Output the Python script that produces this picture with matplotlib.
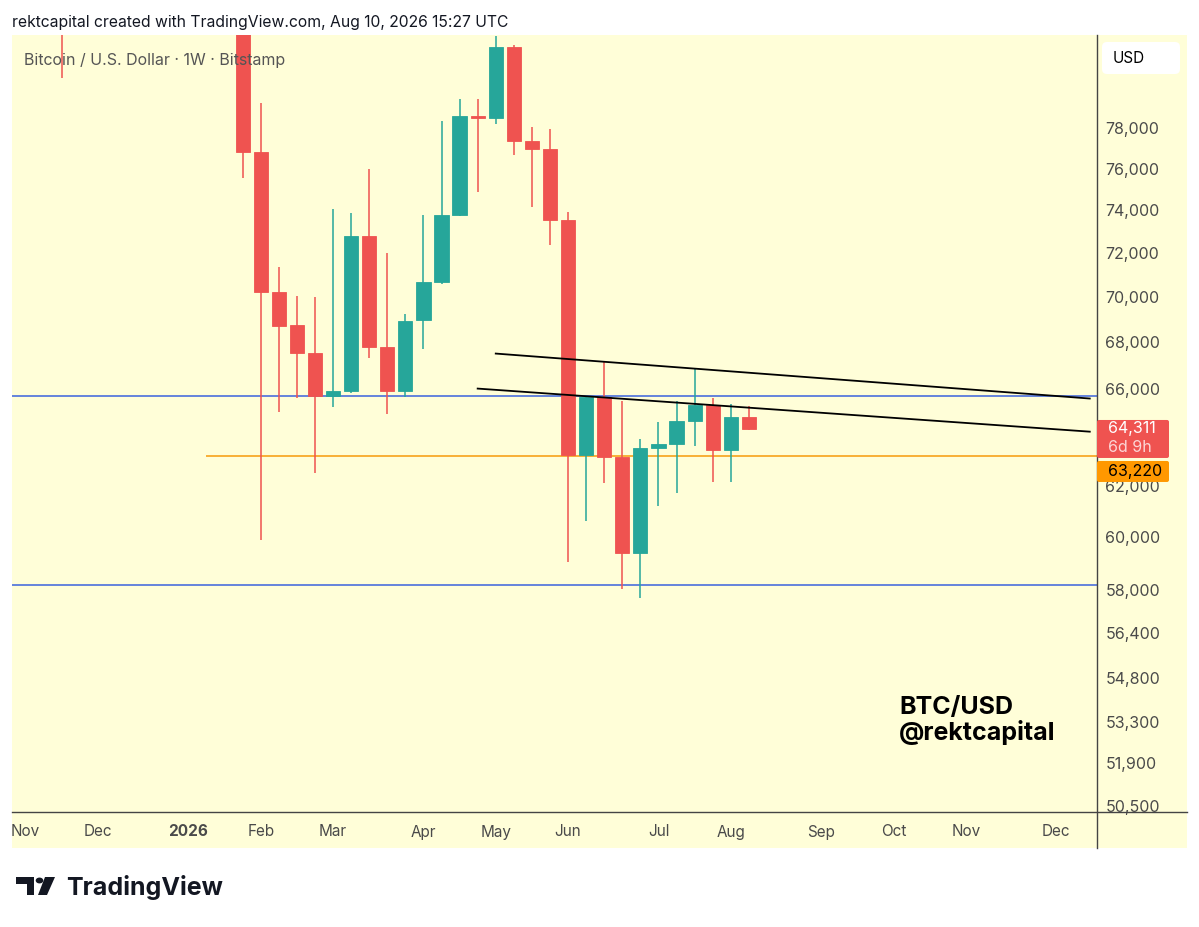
import matplotlib
matplotlib.use("Agg")
import matplotlib.pyplot as plt
import matplotlib.dates as mdates
from matplotlib.patches import Rectangle, Polygon, Circle, FancyBboxPatch
from matplotlib.lines import Line2D
from matplotlib.ticker import FixedLocator, NullLocator, FuncFormatter
import pandas as pd

plt.rcParams['font.family'] = ['Inter', 'DejaVu Sans']

# weekly candles (week start), only the ones that show in the window
weeks = ["2025-11-17", "2026-01-26", "2026-02-02", "2026-02-09", "2026-02-16", "2026-02-23",
         "2026-03-02", "2026-03-09", "2026-03-16", "2026-03-23", "2026-03-30", "2026-04-06",
         "2026-04-13", "2026-04-20", "2026-04-27", "2026-05-04", "2026-05-11", "2026-05-18",
         "2026-05-25", "2026-06-01", "2026-06-08", "2026-06-15", "2026-06-22", "2026-06-29",
         "2026-07-06", "2026-07-13", "2026-07-20", "2026-07-27", "2026-08-03", "2026-08-10"]
opens = [86900, 87600, 76840, 70230, 68730, 67540, 65700, 65900, 72800, 67800, 65900, 68970,
         70690, 73780, 78620, 78530, 82190, 77370, 76960, 73530, 63250, 65630, 63180, 59400,
         63520, 63680, 64630, 65300, 63440, 64800]
highs = [87900, 88400, 79260, 71340, 70040, 70000, 74050, 73870, 75970, 71990, 69220, 73780,
         78370, 79470, 79470, 82760, 82300, 78080, 77970, 73940, 65690, 67190, 65480, 63900,
         64590, 65480, 66880, 65600, 65340, 65270]
lows = [80540, 75570, 59890, 65030, 65590, 62510, 65240, 65800, 67320, 64930, 65660, 67680,
        70570, 73750, 74890, 78200, 76670, 74170, 72370, 59060, 60630, 62130, 58020, 57690,
        61220, 61710, 63610, 62170, 62170, 64250]
closes = [84300, 76840, 70230, 68720, 67540, 65700, 65900, 72790, 67800, 65900, 68930, 70690,
          73780, 78620, 78520, 82190, 77370, 76960, 73530, 63250, 65660, 63180, 59400, 63520,
          63680, 64630, 65300, 63440, 64800, 64311]

support_levels = [65700, 58180]
orange_level = 63220
orange_start = "2026-01-12"
# trendlines: (start week, start price, end week, end price)
trend_upper = ("2026-05-04", 67500, "2026-12-20", 65580)
trend_lower = ("2026-04-27", 66000, "2026-12-20", 64200)

price_ticks = [50500, 51900, 53300, 54800, 56400, 58000, 60000, 62000,
               66000, 68000, 70000, 72000, 74000, 76000, 78000]
month_days = ["2025-11-03", "2025-12-01", "2026-01-05", "2026-02-02", "2026-03-02", "2026-04-06",
              "2026-05-04", "2026-06-01", "2026-07-06", "2026-08-03", "2026-09-07", "2026-10-05",
              "2026-11-02", "2026-12-07"]
month_names = ["Nov", "Dec", "2026", "Feb", "Mar", "Apr", "May", "Jun", "Jul", "Aug", "Sep", "Oct",
               "Nov", "Dec"]
countdown = "6d 9h"

UP = "#26a69a"
DOWN = "#ef5350"
BG = "#fffed8"
TXT = "#4a4a4a"

W, H = 1199, 927


def fx(x):
    return x / W


def fy(y):
    return 1 - y / H


fig = plt.figure(figsize=(W / 100, H / 100), dpi=100)
fig.patch.set_facecolor("white")
fig.add_artist(Rectangle((fx(12), fy(848)), fx(1187 - 12), (848 - 35) / H,
                         transform=fig.transFigure, facecolor=BG, edgecolor="none", zorder=0))

ax = fig.add_axes([fx(12), fy(812), fx(1097 - 12), (812 - 35) / H])
ax.set_facecolor(BG)
for s in ax.spines.values():
    s.set_visible(False)

xs = mdates.date2num(pd.to_datetime(weeks))
last = mdates.date2num(pd.Timestamp("2026-08-10"))
for x, o, h, l, c in zip(xs, opens, highs, lows, closes):
    col = UP if c >= o else DOWN
    ax.vlines(x, l, h, color=col, linewidth=1.1, zorder=3)
    ax.bar(x, abs(c - o), bottom=min(o, c), width=5.5, color=col, edgecolor=col,
           linewidth=0.6, zorder=4)

for lvl in support_levels:
    ax.axhline(lvl, color="#4a6fdc", linewidth=1.2, zorder=2)
ax.hlines(orange_level, mdates.date2num(pd.Timestamp(orange_start)), last + 200,
          color="#f7a21b", linewidth=1.2, zorder=2)
for t in (trend_upper, trend_lower):
    ax.plot(mdates.date2num(pd.to_datetime([t[0], t[2]])), [t[1], t[3]],
            color="black", linewidth=1.3, zorder=5)

ax.set_yscale("log")
ax.set_ylim(50295, 82813)
ax.set_xlim(last - 285.3, last + 134.8)

ax.yaxis.tick_right()
ax.yaxis.set_major_locator(FixedLocator(price_ticks))
ax.yaxis.set_minor_locator(NullLocator())
ax.yaxis.set_major_formatter(FuncFormatter(lambda v, p: f"{v:,.0f}"))
ax.tick_params(axis="y", length=0, pad=6, labelsize=11.5, labelcolor=TXT)

ax.xaxis.set_major_locator(FixedLocator(mdates.date2num(pd.to_datetime(month_days))))
ax.xaxis.set_minor_locator(NullLocator())
ax.set_xticklabels(month_names)
ax.tick_params(axis="x", length=0, pad=9, labelsize=11, labelcolor=TXT)
for lab in ax.get_xticklabels():
    if lab.get_text() == "2026":
        lab.set_fontweight("bold")

# axis frame lines
fig.add_artist(Line2D([fx(1097), fx(1097)], [fy(35), fy(848)], transform=fig.transFigure,
                      color="#444444", linewidth=1.0))
fig.add_artist(Line2D([fx(12), fx(1187)], [fy(812), fy(812)], transform=fig.transFigure,
                      color="#444444", linewidth=1.0))

# texts
fig.text(fx(12), fy(23), "rektcapital created with TradingView.com, Aug 10, 2026 15:27 UTC",
         fontsize=11.3, color="#131722", va="center", ha="left")
fig.text(fx(24), fy(60), "Bitcoin / U.S. Dollar · 1W · Bitstamp",
         fontsize=11.5, color="#555555", va="center", ha="left", zorder=6)
fig.text(fx(899), fy(720.5), "BTC/USD\n@rektcapital", fontsize=18,
         fontweight="bold", color="black", va="center", ha="left", linespacing=1.05, zorder=6)

# USD box
fig.add_artist(FancyBboxPatch((1102, H - 74), 78, 32, boxstyle="round,pad=0,rounding_size=5",
                              transform=None, facecolor="white", edgecolor="none", zorder=6))
fig.text(fx(1113), fy(58.5), "USD", fontsize=11, color="black", va="center", ha="left", zorder=7)

# last price and level labels (positions from the price scale)
close_y = ax.transData.transform((last, closes[-1]))[1]
fig.add_artist(FancyBboxPatch((1097, close_y - 29), 72, 38,
                              boxstyle="round,pad=0,rounding_size=2", transform=None,
                              facecolor=DOWN, edgecolor="none", zorder=8))
fig.text(fx(1108), close_y / H, f"{closes[-1]:,}", fontsize=11.5, color="white",
         va="center", ha="left", zorder=9)
fig.text(fx(1108), (close_y - 18.5) / H, countdown, fontsize=11.5, color="#fcd6d6",
         va="center", ha="left", zorder=9)
box_top = close_y - 32
fig.add_artist(FancyBboxPatch((1097, box_top - 21), 72, 21,
                              boxstyle="round,pad=0,rounding_size=2", transform=None,
                              facecolor="#ff9800", edgecolor="none", zorder=8))
fig.text(fx(1108), (box_top - 10.5) / H, f"{orange_level:,}", fontsize=11.5, color="black",
         va="center", ha="left", zorder=9)

# TradingView logo
fig.add_artist(Polygon([[fx(16), fy(877)], [fx(34), fy(877)], [fx(34), fy(895)], [fx(27), fy(895)],
                        [fx(27), fy(884)], [fx(16), fy(884)]], closed=True,
                       transform=fig.transFigure, facecolor="#131722", edgecolor="none"))
fig.add_artist(Circle((fx(39.5), fy(880.5)), 3.8 / W, transform=fig.transFigure,
                      facecolor="#131722", edgecolor="none"))
fig.add_artist(Polygon([[fx(45), fy(877)], [fx(55), fy(877)], [fx(47), fy(895)], [fx(38), fy(895)]],
                       closed=True, transform=fig.transFigure, facecolor="#131722",
                       edgecolor="none"))
fig.text(fx(66), fy(887), "TradingView", fontsize=18, fontweight="bold", color="#131722",
         va="center", ha="left")

fig.savefig("out.png", dpi=100, facecolor="white")
